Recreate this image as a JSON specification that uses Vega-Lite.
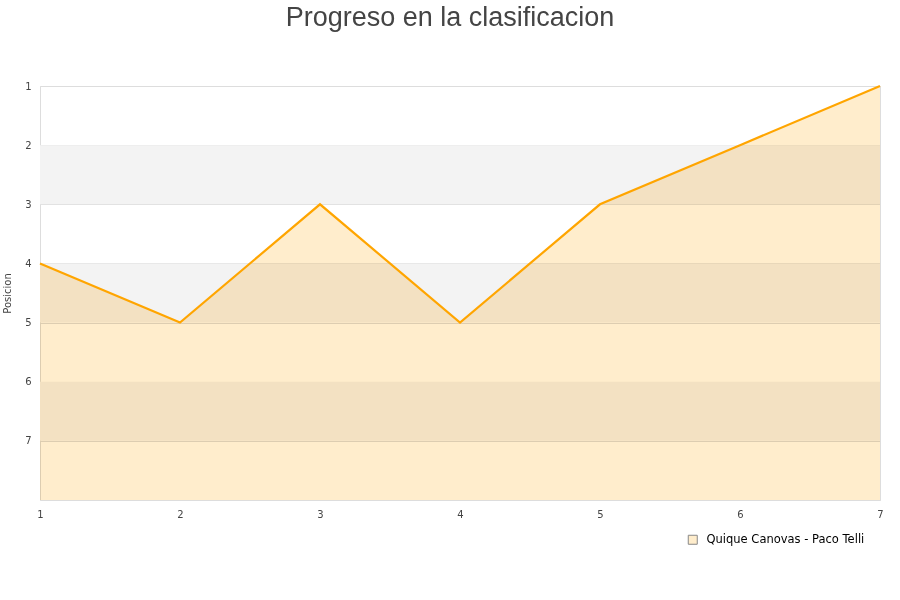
{
  "$schema": "https://vega.github.io/schema/vega-lite/v6.json",
  "width": 840,
  "height": 414,
  "autosize": {"type": "none"},
  "padding": {"left": 40, "top": 86, "right": 20, "bottom": 100},
  "background": "white",
  "title": {
    "text": "Progreso en la clasificacion",
    "font": "Liberation Sans",
    "fontSize": 27,
    "fontWeight": "normal",
    "color": "#444444",
    "anchor": "middle",
    "dx": -10,
    "offset": 49
  },
  "config": {
    "view": {"stroke": "#dddddd", "strokeWidth": 1},
    "axis": {
      "labelFont": "DejaVu Sans",
      "labelFontSize": 10,
      "labelColor": "#444444",
      "titleFont": "DejaVu Sans",
      "titleFontSize": 10,
      "titleFontWeight": "normal",
      "titleColor": "#444444",
      "ticks": false,
      "domainColor": "#dddddd",
      "gridColor": "#dddddd"
    }
  },
  "datasets": {
    "bands": [
      {"desde": 2, "hasta": 3},
      {"desde": 4, "hasta": 5},
      {"desde": 6, "hasta": 7}
    ],
    "progreso": [
      {"jornada": 1, "posicion": 4, "pareja": "Quique Canovas - Paco Telli"},
      {"jornada": 2, "posicion": 5, "pareja": "Quique Canovas - Paco Telli"},
      {"jornada": 3, "posicion": 3, "pareja": "Quique Canovas - Paco Telli"},
      {"jornada": 4, "posicion": 5, "pareja": "Quique Canovas - Paco Telli"},
      {"jornada": 5, "posicion": 3, "pareja": "Quique Canovas - Paco Telli"},
      {"jornada": 6, "posicion": 2, "pareja": "Quique Canovas - Paco Telli"},
      {"jornada": 7, "posicion": 1, "pareja": "Quique Canovas - Paco Telli"}
    ]
  },
  "layer": [
    {
      "data": {"name": "bands"},
      "mark": {"type": "rect", "fill": "#f3f3f3"},
      "encoding": {
        "y": {"field": "desde", "type": "quantitative", "scale": {"domain": [1, 8], "reverse": true, "nice": false, "zero": false},
          "axis": {"values": [1, 2, 3, 4, 5, 6, 7], "format": "d", "title": "Posicion", "grid": true, "domain": false, "labelPadding": 9, "titlePadding": 12}},
        "y2": {"field": "hasta"}
      }
    },
    {
      "data": {"name": "progreso"},
      "mark": {"type": "area", "blend": "multiply", "opacity": 1},
      "encoding": {
        "x": {"field": "jornada", "type": "quantitative", "scale": {"domain": [1, 7], "nice": false, "zero": false},
          "axis": {"values": [1, 2, 3, 4, 5, 6, 7], "format": "d", "title": null, "grid": false, "labelPadding": 9, "labelFlush": false}},
        "y": {"field": "posicion", "type": "quantitative"},
        "y2": {"datum": 8},
        "color": {"field": "pareja", "type": "nominal", "scale": {"range": ["#ffedcc"]},
          "legend": {
            "title": null,
            "orient": "none",
            "legendX": 647,
            "legendY": 448,
            "symbolType": "square",
            "symbolSize": 81,
            "symbolStrokeColor": "#888888",
            "symbolStrokeWidth": 1,
            "labelFont": "DejaVu Sans",
            "labelFontSize": 11.5,
            "labelColor": "#000000",
            "labelOffset": 8
          }}
      }
    },
    {
      "data": {"name": "progreso"},
      "mark": {"type": "line", "color": "#ffa500", "strokeWidth": 2.2},
      "encoding": {
        "x": {"field": "jornada", "type": "quantitative"},
        "y": {"field": "posicion", "type": "quantitative"}
      }
    }
  ]
}
